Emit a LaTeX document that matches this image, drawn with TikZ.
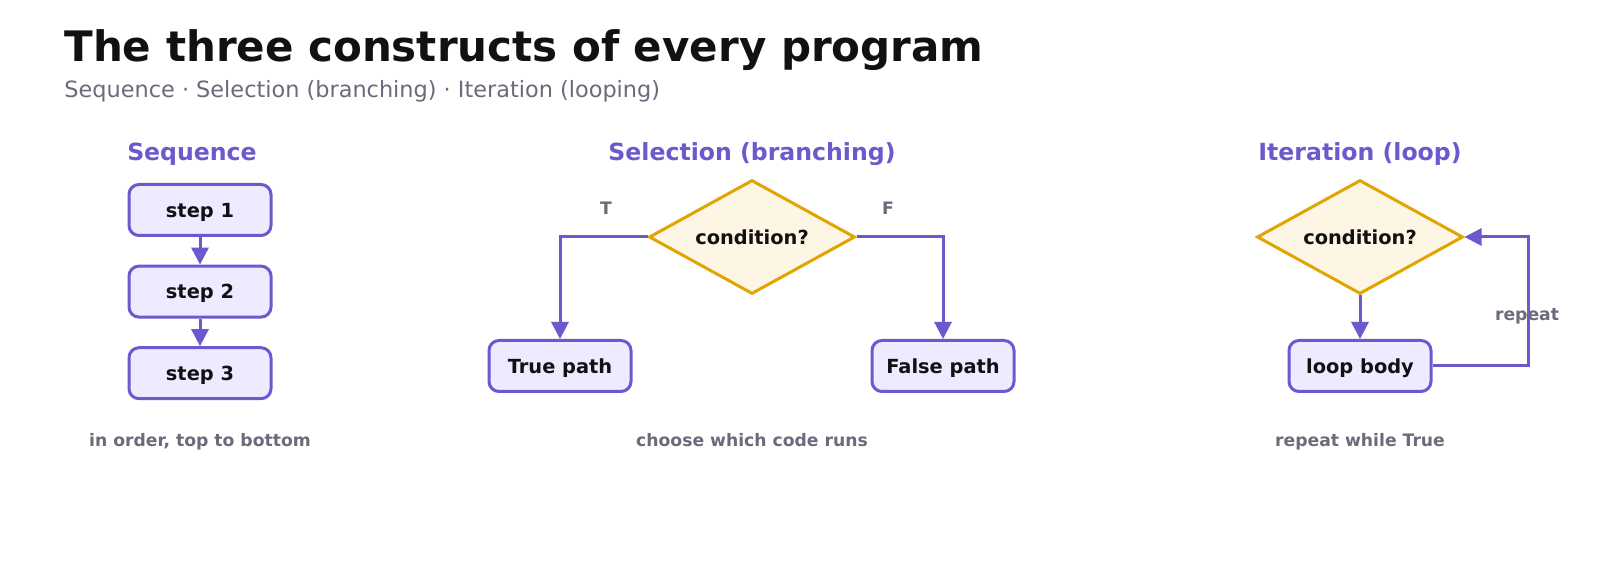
\documentclass[tikz,border=0pt]{standalone}
\usepackage{fontspec}
\setmainfont{DejaVu Sans}
\usepackage{tikz}
\usetikzlibrary{arrows.meta}
\usetikzlibrary{shapes.geometric}
\usetikzlibrary{positioning}
\definecolor{flowpurple}{HTML}{6A5ACD}
\definecolor{boxfill}{HTML}{EFEAFF}
\definecolor{condgold}{HTML}{E0A500}
\definecolor{condfill}{HTML}{FDF6E4}
\definecolor{textgray}{HTML}{6B6B7B}
\definecolor{inkblack}{HTML}{111111}
\tikzset{
    stepbox/.style={draw=flowpurple, fill=boxfill, line width=1.5pt, rounded corners=5pt,
        minimum width=71pt, minimum height=25.5pt, inner sep=0pt, text depth=0pt, text=inkblack,
        font=\fontsize{9.7}{11}\selectfont\bfseries},
    decision/.style={diamond, aspect=1.8, draw=condgold, fill=condfill, line width=1.5pt,
        minimum width=103pt, minimum height=57pt, inner sep=0pt, text=inkblack,
        font=\fontsize{9.7}{11}\selectfont\bfseries},
    flow/.style={draw=flowpurple, line width=1.5pt, -{Triangle[length=8.5pt,width=8.5pt]}},
    heading/.style={anchor=base, text=flowpurple, font=\fontsize{11.8}{14}\selectfont\bfseries},
    caption/.style={text=textgray, font=\fontsize{8.6}{10}\selectfont\bfseries},
}
\begin{document}
\begin{tikzpicture}[x=0.5pt, y=-0.5pt]
		\useasboundingbox[fill=white] (0,0) rectangle (1600,576);
		\node[anchor=base west, inner sep=0pt, text=inkblack, font=\fontsize{21}{25}\selectfont\bfseries] (title) at (64,62) {The three constructs of every program};
		\node[anchor=base west, inner sep=0pt, text=textgray, font=\fontsize{11.2}{13}\selectfont] (subtitle) at (64,98) {Sequence · Selection (branching) · Iteration (looping)};
		%
		\node[heading] (seqtitle) at (192,161) {Sequence};
		\node[stepbox] (step1) at (200,210) {step 1};
		\node[stepbox, below=13.8pt of step1] (step2) {step 2};
		\node[stepbox, below=13.8pt of step2] (step3) {step 3};
		\draw[flow] (step1) -- (step2);
		\draw[flow] (step2) -- (step3);
		\node[caption, anchor=base] (seqnote) at (200,447) {in order, top to bottom};
		%
		\node[heading] (seltitle) at (752,161) {Selection (branching)};
		\node[decision] (cond) at (752,237) {condition?};
		\node[stepbox] (truepath) at (560,366) {True path};
		\node[stepbox] (falsepath) at (943,366) {False path};
		\draw[flow] (cond.west) -| (truepath.north);
		\draw[flow] (cond.east) -| (falsepath.north);
		\node[caption] (tlabel) at (606,208) {T};
		\node[caption] (flabel) at (888,208) {F};
		\node[caption, anchor=base] (selnote) at (752,447) {choose which code runs};
		%
		\node[heading] (looptitle) at (1360,161) {Iteration (loop)};
		\node[decision] (loopcond) at (1360,237) {condition?};
		\node[stepbox] (loopbody) at (1360,366) {loop body};
		\coordinate (loopback) at (1528,366);
		\draw[flow] (loopcond) -- (loopbody);
		\draw[flow] (loopbody.east) -- (loopback) |- (loopcond.east);
		\node[caption] (repeatlabel) at (1527,316) {repeat};
		\node[caption, anchor=base] (loopnote) at (1360,447) {repeat while True};
	\end{tikzpicture}
\end{document}
